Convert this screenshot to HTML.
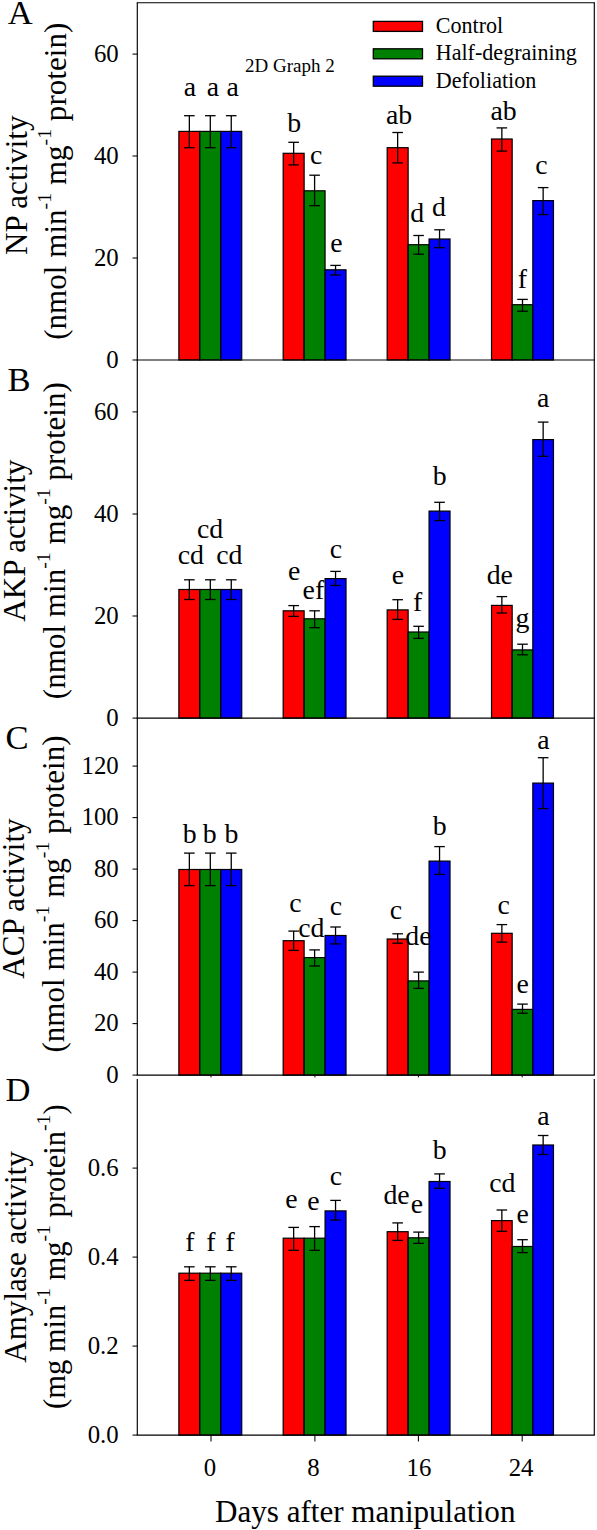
<!DOCTYPE html>
<html lang="en"><head><meta charset="utf-8"><title>Enzyme activities after manipulation</title>
<style>html,body{margin:0;padding:0;background:#fff}svg{display:block}text{font-family:"Liberation Serif", serif;fill:#000}</style></head><body>
<svg width="597" height="1530" viewBox="0 0 597 1530">
<rect x="0" y="0" width="597" height="1530" fill="#fff"/>
<g>
<rect x="178.88" y="131.40" width="20.95" height="228.60" fill="#ff0000" stroke="#000" stroke-width="1.2"/>
<rect x="199.82" y="131.40" width="20.95" height="228.60" fill="#008000" stroke="#000" stroke-width="1.2"/>
<rect x="220.78" y="131.40" width="20.95" height="228.60" fill="#0000ff" stroke="#000" stroke-width="1.2"/>
<rect x="283.18" y="153.30" width="20.95" height="206.70" fill="#ff0000" stroke="#000" stroke-width="1.2"/>
<rect x="304.12" y="190.80" width="20.95" height="169.20" fill="#008000" stroke="#000" stroke-width="1.2"/>
<rect x="325.07" y="269.80" width="20.95" height="90.20" fill="#0000ff" stroke="#000" stroke-width="1.2"/>
<rect x="387.18" y="147.70" width="20.95" height="212.30" fill="#ff0000" stroke="#000" stroke-width="1.2"/>
<rect x="408.12" y="244.70" width="20.95" height="115.30" fill="#008000" stroke="#000" stroke-width="1.2"/>
<rect x="429.07" y="239.00" width="20.95" height="121.00" fill="#0000ff" stroke="#000" stroke-width="1.2"/>
<rect x="491.52" y="139.00" width="20.65" height="221.00" fill="#ff0000" stroke="#000" stroke-width="1.2"/>
<rect x="512.17" y="304.70" width="20.65" height="55.30" fill="#008000" stroke="#000" stroke-width="1.2"/>
<rect x="532.82" y="200.60" width="20.65" height="159.40" fill="#0000ff" stroke="#000" stroke-width="1.2"/>
<line x1="189.35" y1="115.70" x2="189.35" y2="147.70" stroke="#000" stroke-width="1.30"/>
<line x1="184.05" y1="115.70" x2="194.65" y2="115.70" stroke="#000" stroke-width="1.30"/>
<line x1="184.05" y1="147.70" x2="194.65" y2="147.70" stroke="#000" stroke-width="1.30"/>
<line x1="210.30" y1="115.70" x2="210.30" y2="147.70" stroke="#000" stroke-width="1.30"/>
<line x1="205.00" y1="115.70" x2="215.60" y2="115.70" stroke="#000" stroke-width="1.30"/>
<line x1="205.00" y1="147.70" x2="215.60" y2="147.70" stroke="#000" stroke-width="1.30"/>
<line x1="231.25" y1="115.70" x2="231.25" y2="147.70" stroke="#000" stroke-width="1.30"/>
<line x1="225.95" y1="115.70" x2="236.55" y2="115.70" stroke="#000" stroke-width="1.30"/>
<line x1="225.95" y1="147.70" x2="236.55" y2="147.70" stroke="#000" stroke-width="1.30"/>
<line x1="293.65" y1="142.30" x2="293.65" y2="164.90" stroke="#000" stroke-width="1.30"/>
<line x1="288.35" y1="142.30" x2="298.95" y2="142.30" stroke="#000" stroke-width="1.30"/>
<line x1="288.35" y1="164.90" x2="298.95" y2="164.90" stroke="#000" stroke-width="1.30"/>
<line x1="314.60" y1="175.20" x2="314.60" y2="205.70" stroke="#000" stroke-width="1.30"/>
<line x1="309.30" y1="175.20" x2="319.90" y2="175.20" stroke="#000" stroke-width="1.30"/>
<line x1="309.30" y1="205.70" x2="319.90" y2="205.70" stroke="#000" stroke-width="1.30"/>
<line x1="335.55" y1="265.40" x2="335.55" y2="275.00" stroke="#000" stroke-width="1.30"/>
<line x1="330.25" y1="265.40" x2="340.85" y2="265.40" stroke="#000" stroke-width="1.30"/>
<line x1="330.25" y1="275.00" x2="340.85" y2="275.00" stroke="#000" stroke-width="1.30"/>
<line x1="397.65" y1="132.50" x2="397.65" y2="162.90" stroke="#000" stroke-width="1.30"/>
<line x1="392.35" y1="132.50" x2="402.95" y2="132.50" stroke="#000" stroke-width="1.30"/>
<line x1="392.35" y1="162.90" x2="402.95" y2="162.90" stroke="#000" stroke-width="1.30"/>
<line x1="418.60" y1="235.50" x2="418.60" y2="254.20" stroke="#000" stroke-width="1.30"/>
<line x1="413.30" y1="235.50" x2="423.90" y2="235.50" stroke="#000" stroke-width="1.30"/>
<line x1="413.30" y1="254.20" x2="423.90" y2="254.20" stroke="#000" stroke-width="1.30"/>
<line x1="439.55" y1="229.80" x2="439.55" y2="247.70" stroke="#000" stroke-width="1.30"/>
<line x1="434.25" y1="229.80" x2="444.85" y2="229.80" stroke="#000" stroke-width="1.30"/>
<line x1="434.25" y1="247.70" x2="444.85" y2="247.70" stroke="#000" stroke-width="1.30"/>
<line x1="501.85" y1="127.90" x2="501.85" y2="151.10" stroke="#000" stroke-width="1.30"/>
<line x1="496.55" y1="127.90" x2="507.15" y2="127.90" stroke="#000" stroke-width="1.30"/>
<line x1="496.55" y1="151.10" x2="507.15" y2="151.10" stroke="#000" stroke-width="1.30"/>
<line x1="522.50" y1="299.40" x2="522.50" y2="311.20" stroke="#000" stroke-width="1.30"/>
<line x1="517.20" y1="299.40" x2="527.80" y2="299.40" stroke="#000" stroke-width="1.30"/>
<line x1="517.20" y1="311.20" x2="527.80" y2="311.20" stroke="#000" stroke-width="1.30"/>
<line x1="543.15" y1="187.60" x2="543.15" y2="214.60" stroke="#000" stroke-width="1.30"/>
<line x1="537.85" y1="187.60" x2="548.45" y2="187.60" stroke="#000" stroke-width="1.30"/>
<line x1="537.85" y1="214.60" x2="548.45" y2="214.60" stroke="#000" stroke-width="1.30"/>
</g>
<line x1="137.30" y1="2.70" x2="137.30" y2="360.00" stroke="#000" stroke-width="1.15"/>
<line x1="594.30" y1="2.70" x2="594.30" y2="360.00" stroke="#000" stroke-width="1.15"/>
<line x1="136.73" y1="2.70" x2="594.88" y2="2.70" stroke="#000" stroke-width="1.15"/>
<line x1="136.73" y1="360.00" x2="594.88" y2="360.00" stroke="#000" stroke-width="1.15"/>
<line x1="132.50" y1="360.00" x2="137.30" y2="360.00" stroke="#000" stroke-width="1.05"/>
<text x="118.70" y="367.60" font-size="24.80" text-anchor="end">0</text>
<line x1="132.50" y1="258.00" x2="137.30" y2="258.00" stroke="#000" stroke-width="1.05"/>
<text x="118.70" y="265.60" font-size="24.80" text-anchor="end">20</text>
<line x1="132.50" y1="156.00" x2="137.30" y2="156.00" stroke="#000" stroke-width="1.05"/>
<text x="118.70" y="163.60" font-size="24.80" text-anchor="end">40</text>
<line x1="132.50" y1="54.10" x2="137.30" y2="54.10" stroke="#000" stroke-width="1.05"/>
<text x="118.70" y="61.70" font-size="24.80" text-anchor="end">60</text>
<text x="7.70" y="24.00" font-size="34.60" text-anchor="start">A</text>
<text transform="translate(27.00,185.25) rotate(-90)" font-size="31.10" text-anchor="middle">NP activity</text>
<text transform="translate(66.40,181.25) rotate(-90)" font-size="31.10" text-anchor="middle">(nmol min<tspan font-size="19.8" dy="-15">-1</tspan><tspan dy="15"> mg</tspan><tspan font-size="19.8" dy="-15">-1</tspan><tspan dy="15"> protein)</tspan></text>
<g>
<rect x="178.88" y="589.50" width="20.95" height="128.60" fill="#ff0000" stroke="#000" stroke-width="1.2"/>
<rect x="199.82" y="589.50" width="20.95" height="128.60" fill="#008000" stroke="#000" stroke-width="1.2"/>
<rect x="220.78" y="589.50" width="20.95" height="128.60" fill="#0000ff" stroke="#000" stroke-width="1.2"/>
<rect x="283.18" y="610.80" width="20.95" height="107.30" fill="#ff0000" stroke="#000" stroke-width="1.2"/>
<rect x="304.12" y="618.80" width="20.95" height="99.30" fill="#008000" stroke="#000" stroke-width="1.2"/>
<rect x="325.07" y="578.60" width="20.95" height="139.50" fill="#0000ff" stroke="#000" stroke-width="1.2"/>
<rect x="387.18" y="609.90" width="20.95" height="108.20" fill="#ff0000" stroke="#000" stroke-width="1.2"/>
<rect x="408.12" y="632.00" width="20.95" height="86.10" fill="#008000" stroke="#000" stroke-width="1.2"/>
<rect x="429.07" y="511.10" width="20.95" height="207.00" fill="#0000ff" stroke="#000" stroke-width="1.2"/>
<rect x="491.52" y="605.40" width="20.65" height="112.70" fill="#ff0000" stroke="#000" stroke-width="1.2"/>
<rect x="512.17" y="649.90" width="20.65" height="68.20" fill="#008000" stroke="#000" stroke-width="1.2"/>
<rect x="532.82" y="439.60" width="20.65" height="278.50" fill="#0000ff" stroke="#000" stroke-width="1.2"/>
<line x1="189.35" y1="579.80" x2="189.35" y2="599.50" stroke="#000" stroke-width="1.30"/>
<line x1="184.05" y1="579.80" x2="194.65" y2="579.80" stroke="#000" stroke-width="1.30"/>
<line x1="184.05" y1="599.50" x2="194.65" y2="599.50" stroke="#000" stroke-width="1.30"/>
<line x1="210.30" y1="579.80" x2="210.30" y2="599.50" stroke="#000" stroke-width="1.30"/>
<line x1="205.00" y1="579.80" x2="215.60" y2="579.80" stroke="#000" stroke-width="1.30"/>
<line x1="205.00" y1="599.50" x2="215.60" y2="599.50" stroke="#000" stroke-width="1.30"/>
<line x1="231.25" y1="579.80" x2="231.25" y2="599.50" stroke="#000" stroke-width="1.30"/>
<line x1="225.95" y1="579.80" x2="236.55" y2="579.80" stroke="#000" stroke-width="1.30"/>
<line x1="225.95" y1="599.50" x2="236.55" y2="599.50" stroke="#000" stroke-width="1.30"/>
<line x1="293.65" y1="605.60" x2="293.65" y2="616.40" stroke="#000" stroke-width="1.30"/>
<line x1="288.35" y1="605.60" x2="298.95" y2="605.60" stroke="#000" stroke-width="1.30"/>
<line x1="288.35" y1="616.40" x2="298.95" y2="616.40" stroke="#000" stroke-width="1.30"/>
<line x1="314.60" y1="610.80" x2="314.60" y2="627.70" stroke="#000" stroke-width="1.30"/>
<line x1="309.30" y1="610.80" x2="319.90" y2="610.80" stroke="#000" stroke-width="1.30"/>
<line x1="309.30" y1="627.70" x2="319.90" y2="627.70" stroke="#000" stroke-width="1.30"/>
<line x1="335.55" y1="571.40" x2="335.55" y2="585.50" stroke="#000" stroke-width="1.30"/>
<line x1="330.25" y1="571.40" x2="340.85" y2="571.40" stroke="#000" stroke-width="1.30"/>
<line x1="330.25" y1="585.50" x2="340.85" y2="585.50" stroke="#000" stroke-width="1.30"/>
<line x1="397.65" y1="599.70" x2="397.65" y2="619.40" stroke="#000" stroke-width="1.30"/>
<line x1="392.35" y1="599.70" x2="402.95" y2="599.70" stroke="#000" stroke-width="1.30"/>
<line x1="392.35" y1="619.40" x2="402.95" y2="619.40" stroke="#000" stroke-width="1.30"/>
<line x1="418.60" y1="626.30" x2="418.60" y2="638.40" stroke="#000" stroke-width="1.30"/>
<line x1="413.30" y1="626.30" x2="423.90" y2="626.30" stroke="#000" stroke-width="1.30"/>
<line x1="413.30" y1="638.40" x2="423.90" y2="638.40" stroke="#000" stroke-width="1.30"/>
<line x1="439.55" y1="502.30" x2="439.55" y2="520.60" stroke="#000" stroke-width="1.30"/>
<line x1="434.25" y1="502.30" x2="444.85" y2="502.30" stroke="#000" stroke-width="1.30"/>
<line x1="434.25" y1="520.60" x2="444.85" y2="520.60" stroke="#000" stroke-width="1.30"/>
<line x1="501.85" y1="596.60" x2="501.85" y2="613.00" stroke="#000" stroke-width="1.30"/>
<line x1="496.55" y1="596.60" x2="507.15" y2="596.60" stroke="#000" stroke-width="1.30"/>
<line x1="496.55" y1="613.00" x2="507.15" y2="613.00" stroke="#000" stroke-width="1.30"/>
<line x1="522.50" y1="644.20" x2="522.50" y2="654.80" stroke="#000" stroke-width="1.30"/>
<line x1="517.20" y1="644.20" x2="527.80" y2="644.20" stroke="#000" stroke-width="1.30"/>
<line x1="517.20" y1="654.80" x2="527.80" y2="654.80" stroke="#000" stroke-width="1.30"/>
<line x1="543.15" y1="422.10" x2="543.15" y2="456.30" stroke="#000" stroke-width="1.30"/>
<line x1="537.85" y1="422.10" x2="548.45" y2="422.10" stroke="#000" stroke-width="1.30"/>
<line x1="537.85" y1="456.30" x2="548.45" y2="456.30" stroke="#000" stroke-width="1.30"/>
</g>
<line x1="137.30" y1="360.00" x2="137.30" y2="718.10" stroke="#000" stroke-width="1.15"/>
<line x1="594.30" y1="360.00" x2="594.30" y2="718.10" stroke="#000" stroke-width="1.15"/>
<line x1="136.73" y1="718.10" x2="594.88" y2="718.10" stroke="#000" stroke-width="1.15"/>
<line x1="132.50" y1="718.10" x2="137.30" y2="718.10" stroke="#000" stroke-width="1.05"/>
<text x="118.70" y="725.70" font-size="24.80" text-anchor="end">0</text>
<line x1="132.50" y1="616.00" x2="137.30" y2="616.00" stroke="#000" stroke-width="1.05"/>
<text x="118.70" y="623.60" font-size="24.80" text-anchor="end">20</text>
<line x1="132.50" y1="514.00" x2="137.30" y2="514.00" stroke="#000" stroke-width="1.05"/>
<text x="118.70" y="521.60" font-size="24.80" text-anchor="end">40</text>
<line x1="132.50" y1="411.90" x2="137.30" y2="411.90" stroke="#000" stroke-width="1.05"/>
<text x="118.70" y="419.50" font-size="24.80" text-anchor="end">60</text>
<text x="7.60" y="390.70" font-size="34.60" text-anchor="start">B</text>
<text transform="translate(24.70,540.65) rotate(-90)" font-size="31.10" text-anchor="middle">AKP activity</text>
<text transform="translate(64.90,540.65) rotate(-90)" font-size="31.10" text-anchor="middle">(nmol min<tspan font-size="19.8" dy="-15">-1</tspan><tspan dy="15"> mg</tspan><tspan font-size="19.8" dy="-15">-1</tspan><tspan dy="15"> protein)</tspan></text>
<g>
<rect x="178.88" y="869.50" width="20.95" height="205.60" fill="#ff0000" stroke="#000" stroke-width="1.2"/>
<rect x="199.82" y="869.50" width="20.95" height="205.60" fill="#008000" stroke="#000" stroke-width="1.2"/>
<rect x="220.78" y="869.50" width="20.95" height="205.60" fill="#0000ff" stroke="#000" stroke-width="1.2"/>
<rect x="283.18" y="940.70" width="20.95" height="134.40" fill="#ff0000" stroke="#000" stroke-width="1.2"/>
<rect x="304.12" y="957.60" width="20.95" height="117.50" fill="#008000" stroke="#000" stroke-width="1.2"/>
<rect x="325.07" y="935.50" width="20.95" height="139.60" fill="#0000ff" stroke="#000" stroke-width="1.2"/>
<rect x="387.18" y="939.00" width="20.95" height="136.10" fill="#ff0000" stroke="#000" stroke-width="1.2"/>
<rect x="408.12" y="980.90" width="20.95" height="94.20" fill="#008000" stroke="#000" stroke-width="1.2"/>
<rect x="429.07" y="861.10" width="20.95" height="214.00" fill="#0000ff" stroke="#000" stroke-width="1.2"/>
<rect x="491.52" y="933.30" width="20.65" height="141.80" fill="#ff0000" stroke="#000" stroke-width="1.2"/>
<rect x="512.17" y="1009.40" width="20.65" height="65.70" fill="#008000" stroke="#000" stroke-width="1.2"/>
<rect x="532.82" y="783.10" width="20.65" height="292.00" fill="#0000ff" stroke="#000" stroke-width="1.2"/>
<line x1="189.35" y1="853.10" x2="189.35" y2="885.60" stroke="#000" stroke-width="1.30"/>
<line x1="184.05" y1="853.10" x2="194.65" y2="853.10" stroke="#000" stroke-width="1.30"/>
<line x1="184.05" y1="885.60" x2="194.65" y2="885.60" stroke="#000" stroke-width="1.30"/>
<line x1="210.30" y1="853.10" x2="210.30" y2="885.60" stroke="#000" stroke-width="1.30"/>
<line x1="205.00" y1="853.10" x2="215.60" y2="853.10" stroke="#000" stroke-width="1.30"/>
<line x1="205.00" y1="885.60" x2="215.60" y2="885.60" stroke="#000" stroke-width="1.30"/>
<line x1="231.25" y1="853.10" x2="231.25" y2="885.60" stroke="#000" stroke-width="1.30"/>
<line x1="225.95" y1="853.10" x2="236.55" y2="853.10" stroke="#000" stroke-width="1.30"/>
<line x1="225.95" y1="885.60" x2="236.55" y2="885.60" stroke="#000" stroke-width="1.30"/>
<line x1="293.65" y1="931.10" x2="293.65" y2="950.40" stroke="#000" stroke-width="1.30"/>
<line x1="288.35" y1="931.10" x2="298.95" y2="931.10" stroke="#000" stroke-width="1.30"/>
<line x1="288.35" y1="950.40" x2="298.95" y2="950.40" stroke="#000" stroke-width="1.30"/>
<line x1="314.60" y1="949.90" x2="314.60" y2="966.00" stroke="#000" stroke-width="1.30"/>
<line x1="309.30" y1="949.90" x2="319.90" y2="949.90" stroke="#000" stroke-width="1.30"/>
<line x1="309.30" y1="966.00" x2="319.90" y2="966.00" stroke="#000" stroke-width="1.30"/>
<line x1="335.55" y1="927.00" x2="335.55" y2="943.90" stroke="#000" stroke-width="1.30"/>
<line x1="330.25" y1="927.00" x2="340.85" y2="927.00" stroke="#000" stroke-width="1.30"/>
<line x1="330.25" y1="943.90" x2="340.85" y2="943.90" stroke="#000" stroke-width="1.30"/>
<line x1="397.65" y1="933.80" x2="397.65" y2="943.20" stroke="#000" stroke-width="1.30"/>
<line x1="392.35" y1="933.80" x2="402.95" y2="933.80" stroke="#000" stroke-width="1.30"/>
<line x1="392.35" y1="943.20" x2="402.95" y2="943.20" stroke="#000" stroke-width="1.30"/>
<line x1="418.60" y1="972.10" x2="418.60" y2="988.40" stroke="#000" stroke-width="1.30"/>
<line x1="413.30" y1="972.10" x2="423.90" y2="972.10" stroke="#000" stroke-width="1.30"/>
<line x1="413.30" y1="988.40" x2="423.90" y2="988.40" stroke="#000" stroke-width="1.30"/>
<line x1="439.55" y1="846.60" x2="439.55" y2="874.40" stroke="#000" stroke-width="1.30"/>
<line x1="434.25" y1="846.60" x2="444.85" y2="846.60" stroke="#000" stroke-width="1.30"/>
<line x1="434.25" y1="874.40" x2="444.85" y2="874.40" stroke="#000" stroke-width="1.30"/>
<line x1="501.85" y1="924.60" x2="501.85" y2="942.10" stroke="#000" stroke-width="1.30"/>
<line x1="496.55" y1="924.60" x2="507.15" y2="924.60" stroke="#000" stroke-width="1.30"/>
<line x1="496.55" y1="942.10" x2="507.15" y2="942.10" stroke="#000" stroke-width="1.30"/>
<line x1="522.50" y1="1004.10" x2="522.50" y2="1013.20" stroke="#000" stroke-width="1.30"/>
<line x1="517.20" y1="1004.10" x2="527.80" y2="1004.10" stroke="#000" stroke-width="1.30"/>
<line x1="517.20" y1="1013.20" x2="527.80" y2="1013.20" stroke="#000" stroke-width="1.30"/>
<line x1="543.15" y1="757.70" x2="543.15" y2="808.60" stroke="#000" stroke-width="1.30"/>
<line x1="537.85" y1="757.70" x2="548.45" y2="757.70" stroke="#000" stroke-width="1.30"/>
<line x1="537.85" y1="808.60" x2="548.45" y2="808.60" stroke="#000" stroke-width="1.30"/>
</g>
<line x1="137.30" y1="718.10" x2="137.30" y2="1075.10" stroke="#000" stroke-width="1.15"/>
<line x1="594.30" y1="718.10" x2="594.30" y2="1075.10" stroke="#000" stroke-width="1.15"/>
<line x1="136.73" y1="1075.10" x2="594.88" y2="1075.10" stroke="#000" stroke-width="1.15"/>
<line x1="132.50" y1="1075.10" x2="137.30" y2="1075.10" stroke="#000" stroke-width="1.05"/>
<text x="118.70" y="1082.70" font-size="24.80" text-anchor="end">0</text>
<line x1="132.50" y1="1023.60" x2="137.30" y2="1023.60" stroke="#000" stroke-width="1.05"/>
<text x="118.70" y="1031.20" font-size="24.80" text-anchor="end">20</text>
<line x1="132.50" y1="972.10" x2="137.30" y2="972.10" stroke="#000" stroke-width="1.05"/>
<text x="118.70" y="979.70" font-size="24.80" text-anchor="end">40</text>
<line x1="132.50" y1="920.60" x2="137.30" y2="920.60" stroke="#000" stroke-width="1.05"/>
<text x="118.70" y="928.20" font-size="24.80" text-anchor="end">60</text>
<line x1="132.50" y1="869.10" x2="137.30" y2="869.10" stroke="#000" stroke-width="1.05"/>
<text x="118.70" y="876.70" font-size="24.80" text-anchor="end">80</text>
<line x1="132.50" y1="817.60" x2="137.30" y2="817.60" stroke="#000" stroke-width="1.05"/>
<text x="118.70" y="825.20" font-size="24.80" text-anchor="end">100</text>
<line x1="132.50" y1="766.10" x2="137.30" y2="766.10" stroke="#000" stroke-width="1.05"/>
<text x="118.70" y="773.70" font-size="24.80" text-anchor="end">120</text>
<text x="5.50" y="749.30" font-size="34.60" text-anchor="start">C</text>
<text transform="translate(23.50,898.60) rotate(-90)" font-size="31.10" text-anchor="middle">ACP activity</text>
<text transform="translate(63.80,894.00) rotate(-90)" font-size="31.10" text-anchor="middle">(nmol min<tspan font-size="19.8" dy="-15">-1</tspan><tspan dy="15"> mg</tspan><tspan font-size="19.8" dy="-15">-1</tspan><tspan dy="15"> protein)</tspan></text>
<g>
<rect x="178.88" y="1273.20" width="20.95" height="161.90" fill="#ff0000" stroke="#000" stroke-width="1.2"/>
<rect x="199.82" y="1273.20" width="20.95" height="161.90" fill="#008000" stroke="#000" stroke-width="1.2"/>
<rect x="220.78" y="1273.20" width="20.95" height="161.90" fill="#0000ff" stroke="#000" stroke-width="1.2"/>
<rect x="283.18" y="1238.20" width="20.95" height="196.90" fill="#ff0000" stroke="#000" stroke-width="1.2"/>
<rect x="304.12" y="1238.20" width="20.95" height="196.90" fill="#008000" stroke="#000" stroke-width="1.2"/>
<rect x="325.07" y="1210.90" width="20.95" height="224.20" fill="#0000ff" stroke="#000" stroke-width="1.2"/>
<rect x="387.18" y="1231.70" width="20.95" height="203.40" fill="#ff0000" stroke="#000" stroke-width="1.2"/>
<rect x="408.12" y="1237.80" width="20.95" height="197.30" fill="#008000" stroke="#000" stroke-width="1.2"/>
<rect x="429.07" y="1181.50" width="20.95" height="253.60" fill="#0000ff" stroke="#000" stroke-width="1.2"/>
<rect x="491.52" y="1220.60" width="20.65" height="214.50" fill="#ff0000" stroke="#000" stroke-width="1.2"/>
<rect x="512.17" y="1246.50" width="20.65" height="188.60" fill="#008000" stroke="#000" stroke-width="1.2"/>
<rect x="532.82" y="1145.00" width="20.65" height="290.10" fill="#0000ff" stroke="#000" stroke-width="1.2"/>
<line x1="189.35" y1="1266.80" x2="189.35" y2="1280.40" stroke="#000" stroke-width="1.30"/>
<line x1="184.05" y1="1266.80" x2="194.65" y2="1266.80" stroke="#000" stroke-width="1.30"/>
<line x1="184.05" y1="1280.40" x2="194.65" y2="1280.40" stroke="#000" stroke-width="1.30"/>
<line x1="210.30" y1="1266.80" x2="210.30" y2="1280.40" stroke="#000" stroke-width="1.30"/>
<line x1="205.00" y1="1266.80" x2="215.60" y2="1266.80" stroke="#000" stroke-width="1.30"/>
<line x1="205.00" y1="1280.40" x2="215.60" y2="1280.40" stroke="#000" stroke-width="1.30"/>
<line x1="231.25" y1="1266.80" x2="231.25" y2="1280.40" stroke="#000" stroke-width="1.30"/>
<line x1="225.95" y1="1266.80" x2="236.55" y2="1266.80" stroke="#000" stroke-width="1.30"/>
<line x1="225.95" y1="1280.40" x2="236.55" y2="1280.40" stroke="#000" stroke-width="1.30"/>
<line x1="293.65" y1="1227.40" x2="293.65" y2="1250.30" stroke="#000" stroke-width="1.30"/>
<line x1="288.35" y1="1227.40" x2="298.95" y2="1227.40" stroke="#000" stroke-width="1.30"/>
<line x1="288.35" y1="1250.30" x2="298.95" y2="1250.30" stroke="#000" stroke-width="1.30"/>
<line x1="314.60" y1="1226.60" x2="314.60" y2="1250.30" stroke="#000" stroke-width="1.30"/>
<line x1="309.30" y1="1226.60" x2="319.90" y2="1226.60" stroke="#000" stroke-width="1.30"/>
<line x1="309.30" y1="1250.30" x2="319.90" y2="1250.30" stroke="#000" stroke-width="1.30"/>
<line x1="335.55" y1="1200.40" x2="335.55" y2="1220.10" stroke="#000" stroke-width="1.30"/>
<line x1="330.25" y1="1200.40" x2="340.85" y2="1200.40" stroke="#000" stroke-width="1.30"/>
<line x1="330.25" y1="1220.10" x2="340.85" y2="1220.10" stroke="#000" stroke-width="1.30"/>
<line x1="397.65" y1="1222.90" x2="397.65" y2="1240.40" stroke="#000" stroke-width="1.30"/>
<line x1="392.35" y1="1222.90" x2="402.95" y2="1222.90" stroke="#000" stroke-width="1.30"/>
<line x1="392.35" y1="1240.40" x2="402.95" y2="1240.40" stroke="#000" stroke-width="1.30"/>
<line x1="418.60" y1="1232.10" x2="418.60" y2="1243.40" stroke="#000" stroke-width="1.30"/>
<line x1="413.30" y1="1232.10" x2="423.90" y2="1232.10" stroke="#000" stroke-width="1.30"/>
<line x1="413.30" y1="1243.40" x2="423.90" y2="1243.40" stroke="#000" stroke-width="1.30"/>
<line x1="439.55" y1="1173.90" x2="439.55" y2="1188.30" stroke="#000" stroke-width="1.30"/>
<line x1="434.25" y1="1173.90" x2="444.85" y2="1173.90" stroke="#000" stroke-width="1.30"/>
<line x1="434.25" y1="1188.30" x2="444.85" y2="1188.30" stroke="#000" stroke-width="1.30"/>
<line x1="501.85" y1="1210.00" x2="501.85" y2="1231.30" stroke="#000" stroke-width="1.30"/>
<line x1="496.55" y1="1210.00" x2="507.15" y2="1210.00" stroke="#000" stroke-width="1.30"/>
<line x1="496.55" y1="1231.30" x2="507.15" y2="1231.30" stroke="#000" stroke-width="1.30"/>
<line x1="522.50" y1="1239.70" x2="522.50" y2="1252.60" stroke="#000" stroke-width="1.30"/>
<line x1="517.20" y1="1239.70" x2="527.80" y2="1239.70" stroke="#000" stroke-width="1.30"/>
<line x1="517.20" y1="1252.60" x2="527.80" y2="1252.60" stroke="#000" stroke-width="1.30"/>
<line x1="543.15" y1="1135.50" x2="543.15" y2="1154.50" stroke="#000" stroke-width="1.30"/>
<line x1="537.85" y1="1135.50" x2="548.45" y2="1135.50" stroke="#000" stroke-width="1.30"/>
<line x1="537.85" y1="1154.50" x2="548.45" y2="1154.50" stroke="#000" stroke-width="1.30"/>
</g>
<line x1="137.30" y1="1079.00" x2="137.30" y2="1435.10" stroke="#000" stroke-width="1.15"/>
<line x1="594.30" y1="1079.00" x2="594.30" y2="1435.10" stroke="#000" stroke-width="1.15"/>
<line x1="136.73" y1="1435.10" x2="594.88" y2="1435.10" stroke="#000" stroke-width="1.15"/>
<line x1="132.50" y1="1435.10" x2="137.30" y2="1435.10" stroke="#000" stroke-width="1.05"/>
<text x="118.70" y="1442.70" font-size="24.80" text-anchor="end">0.0</text>
<line x1="132.50" y1="1346.10" x2="137.30" y2="1346.10" stroke="#000" stroke-width="1.05"/>
<text x="118.70" y="1353.70" font-size="24.80" text-anchor="end">0.2</text>
<line x1="132.50" y1="1257.10" x2="137.30" y2="1257.10" stroke="#000" stroke-width="1.05"/>
<text x="118.70" y="1264.70" font-size="24.80" text-anchor="end">0.4</text>
<line x1="132.50" y1="1168.10" x2="137.30" y2="1168.10" stroke="#000" stroke-width="1.05"/>
<text x="118.70" y="1175.70" font-size="24.80" text-anchor="end">0.6</text>
<text x="5.60" y="1101.20" font-size="34.60" text-anchor="start">D</text>
<text transform="translate(26.20,1257.00) rotate(-90)" font-size="31.10" text-anchor="middle">Amylase activity</text>
<text transform="translate(65.20,1256.65) rotate(-90)" font-size="30.50" text-anchor="middle">(mg min<tspan font-size="19.8" dy="-15">-1</tspan><tspan dy="15"> mg</tspan><tspan font-size="19.8" dy="-15">-1</tspan><tspan dy="15"> protein</tspan><tspan font-size="19.8" dy="-15">-1</tspan><tspan dy="15">)</tspan></text>
<line x1="211.00" y1="1435.10" x2="211.00" y2="1441.60" stroke="#000" stroke-width="1.05"/>
<line x1="211.00" y1="1075.10" x2="211.00" y2="1077.40" stroke="#000" stroke-width="1.00"/>
<line x1="314.90" y1="1435.10" x2="314.90" y2="1441.60" stroke="#000" stroke-width="1.05"/>
<line x1="314.90" y1="1075.10" x2="314.90" y2="1077.40" stroke="#000" stroke-width="1.00"/>
<line x1="418.40" y1="1435.10" x2="418.40" y2="1441.60" stroke="#000" stroke-width="1.05"/>
<line x1="418.40" y1="1075.10" x2="418.40" y2="1077.40" stroke="#000" stroke-width="1.00"/>
<line x1="522.20" y1="1435.10" x2="522.20" y2="1441.60" stroke="#000" stroke-width="1.05"/>
<line x1="522.20" y1="1075.10" x2="522.20" y2="1077.40" stroke="#000" stroke-width="1.00"/>
<text x="209.90" y="1476.00" font-size="24.80" text-anchor="middle">0</text>
<text x="313.50" y="1476.00" font-size="24.80" text-anchor="middle">8</text>
<text x="419.00" y="1476.00" font-size="24.80" text-anchor="middle">16</text>
<text x="521.10" y="1476.00" font-size="24.80" text-anchor="middle">24</text>
<text x="365.20" y="1522.00" font-size="31.10" text-anchor="middle">Days after manipulation</text>
<text x="190.00" y="95.60" font-size="27.80" text-anchor="middle">a</text>
<text x="212.80" y="95.60" font-size="27.80" text-anchor="middle">a</text>
<text x="232.70" y="95.60" font-size="27.80" text-anchor="middle">a</text>
<text x="294.30" y="131.60" font-size="27.80" text-anchor="middle">b</text>
<text x="316.10" y="164.30" font-size="27.80" text-anchor="middle">c</text>
<text x="336.30" y="251.90" font-size="27.80" text-anchor="middle">e</text>
<text x="399.00" y="124.30" font-size="27.80" text-anchor="middle">ab</text>
<text x="417.30" y="222.40" font-size="27.80" text-anchor="middle">d</text>
<text x="438.90" y="215.60" font-size="27.80" text-anchor="middle">d</text>
<text x="503.50" y="119.80" font-size="27.80" text-anchor="middle">ab</text>
<text x="522.50" y="287.80" font-size="27.80" text-anchor="middle">f</text>
<text x="541.50" y="173.80" font-size="27.80" text-anchor="middle">c</text>
<text x="190.80" y="563.60" font-size="27.80" text-anchor="middle">cd</text>
<text x="210.10" y="537.80" font-size="27.80" text-anchor="middle">cd</text>
<text x="229.40" y="563.60" font-size="27.80" text-anchor="middle">cd</text>
<text x="294.10" y="579.60" font-size="27.80" text-anchor="middle">e</text>
<text x="313.40" y="598.90" font-size="27.80" text-anchor="middle">ef</text>
<text x="335.90" y="558.30" font-size="27.80" text-anchor="middle">c</text>
<text x="397.90" y="583.60" font-size="27.80" text-anchor="middle">e</text>
<text x="417.60" y="611.30" font-size="27.80" text-anchor="middle">f</text>
<text x="439.70" y="484.60" font-size="27.80" text-anchor="middle">b</text>
<text x="499.80" y="583.60" font-size="27.80" text-anchor="middle">de</text>
<text x="522.50" y="626.60" font-size="27.80" text-anchor="middle">g</text>
<text x="543.10" y="406.50" font-size="27.80" text-anchor="middle">a</text>
<text x="189.60" y="843.20" font-size="27.80" text-anchor="middle">b</text>
<text x="209.70" y="843.20" font-size="27.80" text-anchor="middle">b</text>
<text x="231.40" y="843.20" font-size="27.80" text-anchor="middle">b</text>
<text x="295.30" y="911.60" font-size="27.80" text-anchor="middle">c</text>
<text x="311.40" y="936.90" font-size="27.80" text-anchor="middle">cd</text>
<text x="335.90" y="914.80" font-size="27.80" text-anchor="middle">c</text>
<text x="396.00" y="918.60" font-size="27.80" text-anchor="middle">c</text>
<text x="418.40" y="945.10" font-size="27.80" text-anchor="middle">de</text>
<text x="439.70" y="835.40" font-size="27.80" text-anchor="middle">b</text>
<text x="503.60" y="913.80" font-size="27.80" text-anchor="middle">c</text>
<text x="522.60" y="992.50" font-size="27.80" text-anchor="middle">e</text>
<text x="543.50" y="749.10" font-size="27.80" text-anchor="middle">a</text>
<text x="190.00" y="1250.50" font-size="27.80" text-anchor="middle">f</text>
<text x="210.90" y="1250.50" font-size="27.80" text-anchor="middle">f</text>
<text x="230.20" y="1250.50" font-size="27.80" text-anchor="middle">f</text>
<text x="291.30" y="1207.50" font-size="27.80" text-anchor="middle">e</text>
<text x="313.40" y="1210.30" font-size="27.80" text-anchor="middle">e</text>
<text x="335.90" y="1185.30" font-size="27.80" text-anchor="middle">c</text>
<text x="396.50" y="1204.10" font-size="27.80" text-anchor="middle">de</text>
<text x="416.90" y="1213.20" font-size="27.80" text-anchor="middle">e</text>
<text x="439.70" y="1158.50" font-size="27.80" text-anchor="middle">b</text>
<text x="502.40" y="1191.60" font-size="27.80" text-anchor="middle">cd</text>
<text x="522.60" y="1222.70" font-size="27.80" text-anchor="middle">e</text>
<text x="543.50" y="1125.00" font-size="27.80" text-anchor="middle">a</text>
<rect x="373.3" y="21.40" width="49.2" height="10.0" fill="#ff0000" stroke="#000" stroke-width="1.3"/>
<text x="435.70" y="32.80" font-size="22.10" text-anchor="start">Control</text>
<rect x="373.3" y="48.80" width="49.2" height="10.0" fill="#008000" stroke="#000" stroke-width="1.3"/>
<text x="435.70" y="60.20" font-size="22.10" text-anchor="start">Half-degraining</text>
<rect x="373.3" y="76.20" width="49.2" height="10.0" fill="#0000ff" stroke="#000" stroke-width="1.3"/>
<text x="435.70" y="87.60" font-size="22.10" text-anchor="start">Defoliation</text>
<text x="245.00" y="71.70" font-size="19.00" text-anchor="start">2D Graph 2</text>
</svg></body></html>
